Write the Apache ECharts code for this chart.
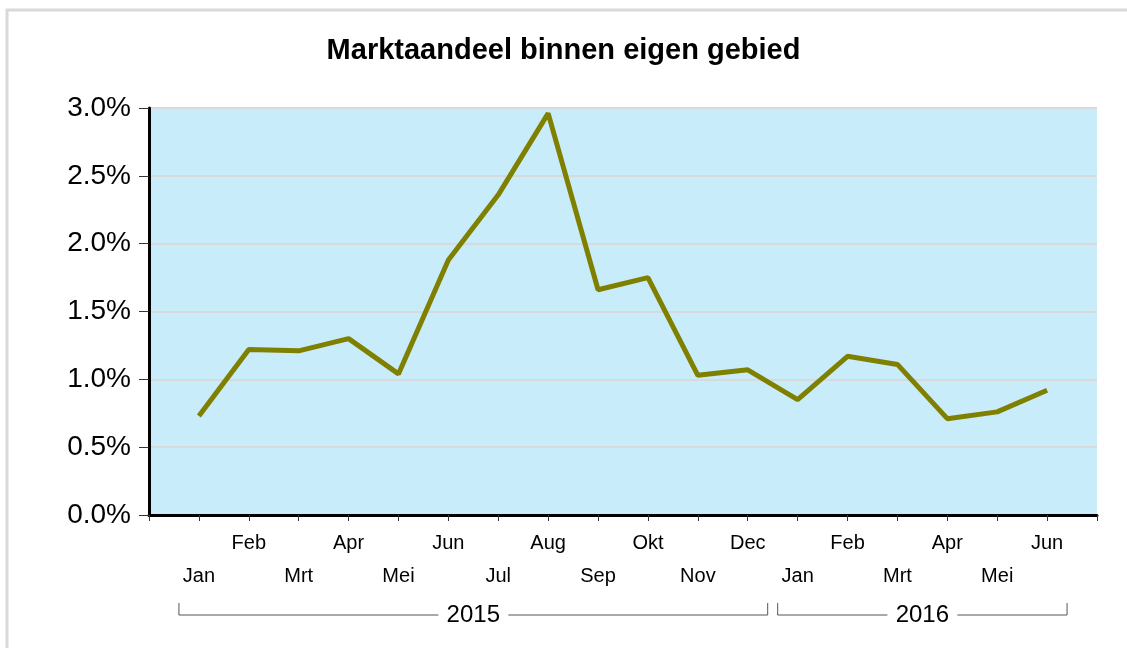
<!DOCTYPE html>
<html>
<head>
<meta charset="utf-8">
<script src="https://cdn.jsdelivr.net/npm/echarts@6/dist/echarts.min.js"></script>
<style>
html, body { margin: 0; padding: 0; background: #fff; }
#chart { width: 1127px; height: 648px; }
</style>
</head>
<body>
<div id="chart"></div>
<script>
// maanden (lege plekken aan begin en eind geven de halve marge)
var maanden = ['', 'Jan', 'Feb', 'Mrt', 'Apr', 'Mei', 'Jun', 'Jul', 'Aug', 'Sep', 'Okt', 'Nov', 'Dec',
	'Jan', 'Feb', 'Mrt', 'Apr', 'Mei', 'Jun', ''];
var marktaandeel = [null, 0.73, 1.22, 1.21, 1.30, 1.04, 1.88, 2.36, 2.96, 1.66, 1.75, 1.03, 1.07,
	0.85, 1.17, 1.11, 0.71, 0.76, 0.92, null];
var jaren = ['2015', '2016'];
var jaarVan = [1, 13]; // eerste maand-index per jaar
var jaarTot = [12, 18]; // laatste maand-index per jaar
var yTicks = [0, 0.5, 1.0, 1.5, 2.0, 2.5, 3.0];

var font = 'Liberation Sans, Arial, sans-serif';
var myChart = echarts.init(document.getElementById('chart'));

myChart.setOption({
	animation: false,
	title: {
		text: 'Marktaandeel binnen eigen gebied',
		left: 'center',
		top: 31,
		textStyle: { fontFamily: font, fontWeight: 'bold', fontSize: 29, color: '#000' }
	},
	grid: {
		left: 149, top: 108, right: 30, bottom: 133,
		show: true, backgroundColor: '#c9ecfa', borderWidth: 0
	},
	xAxis: {
		type: 'category',
		data: maanden,
		boundaryGap: false,
		axisLine: { lineStyle: { color: '#000', width: 3 } },
		axisTick: { interval: 0, length: 6, lineStyle: { color: '#333', width: 1 } },
		axisLabel: {
			interval: 0,
			margin: 12,
			fontFamily: font,
			fontSize: 20,
			color: '#000',
			lineHeight: 33,
			formatter: function (v, i) {
				// Jan, Mrt, Mei... op de tweede regel
				return (i % 2 === 1) ? '\n' + v : v;
			}
		},
		splitLine: { show: false }
	},
	yAxis: {
		type: 'value',
		min: yTicks[0],
		max: yTicks[yTicks.length - 1],
		interval: 0.5,
		axisLine: { show: true, lineStyle: { color: '#000', width: 3 } },
		axisTick: { show: true, length: 10, lineStyle: { color: '#333', width: 1 } },
		axisLabel: {
			margin: 18,
			fontFamily: font,
			fontSize: 28,
			color: '#000',
			formatter: function (v) { return v.toFixed(1) + '%'; }
		},
		splitLine: { lineStyle: { color: '#d9d9d9', width: 2 } }
	},
	series: [{
		type: 'line',
		data: marktaandeel,
		showSymbol: false,
		symbol: 'none',
		lineStyle: { color: '#808000', width: 5 },
		itemStyle: { color: '#808000' }
	}]
});

// jaar-haken onder de as, posities afgeleid van de categorie-as
var stap = myChart.convertToPixel({ xAxisIndex: 0 }, 2) - myChart.convertToPixel({ xAxisIndex: 0 }, 1);
var lijnY = 615, haakTop = 603;
var graphics = [{
	type: 'rect',
	shape: { x: 7, y: 10, width: 1200, height: 700 },
	style: { fill: 'none', stroke: '#d9d9d9', lineWidth: 3 },
	z: 100
}];
jaren.forEach(function (jaar, k) {
	var x1 = myChart.convertToPixel({ xAxisIndex: 0 }, jaarVan[k]) - stap * 0.4;
	var x2 = myChart.convertToPixel({ xAxisIndex: 0 }, jaarTot[k]) + stap * 0.4;
	var mid = (x1 + x2) / 2;
	var half = 35;
	graphics.push({
		type: 'polyline',
		shape: { points: [[x1, haakTop], [x1, lijnY], [mid - half, lijnY]] },
		style: { stroke: '#555', lineWidth: 1, fill: null }
	});
	graphics.push({
		type: 'polyline',
		shape: { points: [[mid + half, lijnY], [x2, lijnY], [x2, haakTop]] },
		style: { stroke: '#555', lineWidth: 1, fill: null }
	});
	graphics.push({
		type: 'text',
		x: mid, y: lijnY,
		style: {
			text: jaar, fontFamily: font, fontSize: 24, fill: '#000',
			align: 'center', verticalAlign: 'middle'
		}
	});
});
myChart.setOption({ graphic: graphics });
</script>
</body>
</html>
